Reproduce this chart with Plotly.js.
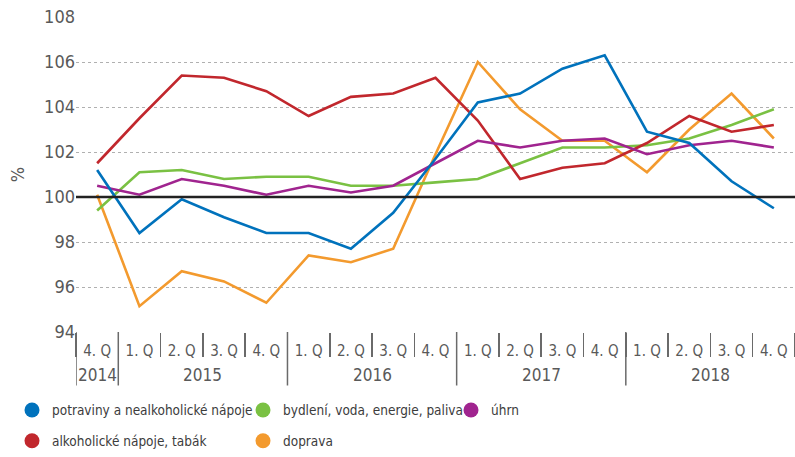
<!DOCTYPE html>
<html>
<head>
<meta charset="utf-8">
<script src="https://cdn.plot.ly/plotly-3.0.1.min.js"></script>
<style>html,body{margin:0;padding:0;background:#fff;}#chart{width:795px;height:457px;}</style>
</head>
<body>
<div id="chart"></div>
<script>
const years = ["2014","2015","2015","2015","2015","2016","2016","2016","2016","2017","2017","2017","2017","2018","2018","2018","2018"];
const quarters = ["4. Q","1. Q","2. Q","3. Q","4. Q","1. Q","2. Q","3. Q","4. Q","1. Q","2. Q","3. Q","4. Q","1. Q","2. Q","3. Q","4. Q"];

const potraviny = [101.2, 98.4, 99.9, 99.1, 98.4, 98.4, 97.7, 99.3, 101.7, 104.2, 104.6, 105.7, 106.3, 102.9, 102.4, 100.7, 99.5];
const alkohol   = [101.5, 103.5, 105.4, 105.3, 104.7, 103.6, 104.45, 104.6, 105.3, 103.4, 100.8, 101.3, 101.5, 102.4, 103.6, 102.9, 103.2];
const bydleni   = [99.4, 101.1, 101.2, 100.8, 100.9, 100.9, 100.5, 100.5, 100.65, 100.8, 101.5, 102.2, 102.2, 102.3, 102.6, 103.2, 103.9];
const doprava   = [100.1, 95.15, 96.7, 96.25, 95.3, 97.4, 97.1, 97.7, 101.9, 106.0, 103.9, 102.5, 102.5, 101.1, 103.0, 104.6, 102.6];
const uhrn      = [100.5, 100.1, 100.8, 100.5, 100.1, 100.5, 100.2, 100.5, 101.5, 102.5, 102.2, 102.5, 102.6, 101.9, 102.3, 102.5, 102.2];

const names = ["potraviny a nealkoholické nápoje", "alkoholické nápoje, tabák", "bydlení, voda, energie, paliva", "doprava", "úhrn"];
const colors = ["#0072bc", "#c1272d", "#7ac143", "#f39a2e", "#a0248f"];
const seriesList = [potraviny, alkohol, bydleni, doprava, uhrn];

const FONT = "'DejaVu Sans Condensed', 'Liberation Sans', sans-serif";
const GRAY = "#595959";

// unique category keys, shown with quarter tick text
const keys = years.map((y, i) => y + " " + quarters[i]);

const traces = [];
const order = [3, 2, 1, 4, 0];
order.forEach(i => {
  traces.push({
    type: "scatter", mode: "lines",
    x: keys, y: seriesList[i],
    line: {color: colors[i], width: 2.6},
    showlegend: false, hoverinfo: "skip"
  });
});
const legendIds = ["legend", "legend2", "legend3", "legend4", "legend5"];
names.forEach((n, i) => {
  traces.push({
    type: "scatter", mode: "markers",
    x: [null], y: [null], name: n,
    marker: {color: colors[i], size: 15, symbol: "circle"},
    legend: legendIds[i], showlegend: true
  });
});

function px2x(p) { return (p - 76) / 719; }
function py2y(p) { return (335 - p) / 318; }

// year groups: label positions and dividers from the years array
const annotations = [];
const shapes = [{type: "line", xref: "paper", x0: 0, x1: 1, yref: "y", y0: 100, y1: 100, line: {color: "#222", width: 2.5}}];
let start = 0;
for (let i = 1; i <= years.length; i++) {
  if (i === years.length || years[i] !== years[start]) {
    annotations.push({
      xref: "x", yref: "paper", x: (start + i - 1) / 2, y: py2y(378),
      text: years[start], showarrow: false, xanchor: "center", yanchor: "middle",
      font: {family: FONT, size: 17, color: GRAY}
    });
    shapes.push({type: "line", xref: "x", yref: "paper", x0: start - 0.5, x1: start - 0.5,
      y0: 0, y1: py2y(389), line: {color: "#6a6a6a", width: 1.5}});
    start = i;
  }
}

const legPos = [[12, 414], [12, 445], [243, 414], [243, 445], [451, 414]];
const legFont = {family: FONT, size: 13.5, color: "#3c3c3c"};

const layout = {
  width: 795, height: 457,
  margin: {l: 76, r: 0, t: 17, b: 122},
  paper_bgcolor: "#fff", plot_bgcolor: "#fff",
  font: {family: FONT, color: GRAY},
  xaxis: {
    type: "category",
    tickmode: "array", tickvals: keys, ticktext: quarters,
    tickson: "boundaries",
    ticks: "outside", ticklen: 24, tickwidth: 1.5, tickcolor: "#6a6a6a",
    ticklabelstandoff: 8,
    tickfont: {family: FONT, size: 15, color: GRAY},
    showgrid: false, showline: false, zeroline: false,
    range: [-0.5, 16.5]
  },
  yaxis: {
    range: [94, 108], dtick: 2, tick0: 94,
    showgrid: true, gridcolor: "#b0b0b0", griddash: "dot", gridwidth: 1,
    zeroline: false, showline: false, ticks: "",
    tickfont: {family: FONT, size: 18, color: GRAY},
    title: {text: "%", font: {family: FONT, size: 18, color: GRAY}, standoff: 14}
  },
  shapes: shapes,
  annotations: annotations
};
legendIds.forEach((id, i) => {
  layout[id] = {
    x: px2x(legPos[i][0]), y: py2y(legPos[i][1]),
    xanchor: "left", yanchor: "middle",
    bgcolor: "rgba(0,0,0,0)", font: legFont, borderwidth: 0
  };
});

Plotly.newPlot("chart", traces, layout, {displayModeBar: false, staticPlot: true});
</script>
</body>
</html>
